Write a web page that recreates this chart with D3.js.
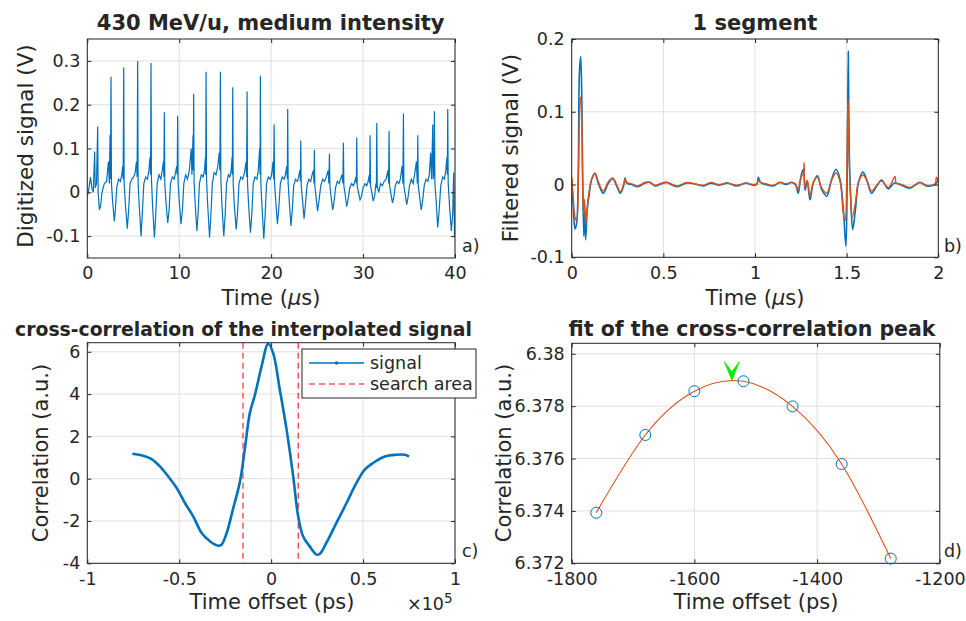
<!DOCTYPE html>
<html><head><meta charset="utf-8">
<script src="https://cdn.jsdelivr.net/npm/d3@7"></script>
<style>
body{margin:0;background:#fff;}
svg text{font-family:"DejaVu Sans",sans-serif;fill:#262626;}
</style></head><body>
<svg id="c" width="966" height="621"></svg>
<script>
// ---------- Panel a: digitized signal (t in µs, V) ----------
const sigA = [
[0,-0.01],[0.15,0.005],[0.35,0.035],[0.5,0.01],[0.65,0.0],[0.8,0.093],[0.86,0.01],[1.0,0.02],[1.13,0.15],[1.18,0.0],[1.31,-0.04],[1.45,-0.03],[1.6,0.0],[1.85,0.02],[2.1,0.025],[2.3,0.07],[2.4,0.02],[2.47,0.13],[2.52,0.03],
[2.58,0.264],[2.63,0.02],[2.75,-0.02],[2.94,-0.066],[3.05,-0.04],[3.2,0.01],[3.4,0.03],[3.6,0.025],[3.75,0.04],[3.85,0.06],[3.9,0.03],
[3.96,0.285],[4.01,0.02],[4.15,-0.03],[4.35,-0.083],[4.5,-0.04],[4.65,0.02],[4.85,0.03],[5.05,0.035],[5.2,0.045],[5.35,0.07],[5.42,0.035],
[5.48,0.30],[5.53,0.02],[5.65,-0.03],[5.85,-0.10],[5.98,-0.05],[6.15,0.02],[6.35,0.035],[6.55,0.03],[6.7,0.05],[6.82,0.08],[6.88,0.04],
[6.93,0.295],[6.98,0.03],[7.1,-0.03],[7.3,-0.103],[7.45,-0.05],[7.6,0.02],[7.8,0.04],[8.0,0.03],[8.15,0.05],[8.28,0.07],[8.33,0.035],
[8.38,0.183],[8.43,0.02],[8.55,-0.02],[8.75,-0.07],[8.9,-0.04],[9.05,0.02],[9.25,0.035],[9.45,0.03],[9.6,0.045],[9.72,0.06],[9.78,0.04],
[9.83,0.175],[9.88,0.02],[10.0,-0.02],[10.2,-0.073],[10.35,-0.04],[10.5,0.02],[10.7,0.04],[10.9,0.03],[11.1,0.05],[11.3,0.1],[11.38,0.04],[11.5,0.13],[11.53,0.05],
[11.57,0.225],[11.62,0.02],[11.75,-0.03],[11.92,-0.088],[12.05,-0.05],[12.2,0.02],[12.4,0.04],[12.6,0.035],[12.75,0.05],[12.85,0.08],[12.88,0.04],
[12.92,0.275],[12.97,0.03],[13.1,-0.03],[13.3,-0.103],[13.45,-0.05],[13.6,0.02],[13.8,0.045],[14.0,0.04],[14.2,0.06],[14.35,0.09],[14.42,0.05],
[14.48,0.275],[14.53,0.03],[14.65,-0.03],[14.85,-0.10],[15.0,-0.05],[15.15,0.02],[15.35,0.04],[15.5,0.035],[15.65,0.05],[15.75,0.08],[15.78,0.04],
[15.82,0.24],[15.87,0.02],[16.0,-0.03],[16.2,-0.085],[16.35,-0.045],[16.5,0.02],[16.7,0.035],[16.9,0.03],[17.1,0.045],[17.28,0.07],[17.33,0.035],
[17.38,0.23],[17.43,0.02],[17.55,-0.03],[17.75,-0.092],[17.9,-0.05],[18.05,0.02],[18.25,0.035],[18.45,0.03],[18.6,0.05],[18.75,0.1],[18.79,0.04],
[18.83,0.266],[18.88,0.02],[19.0,-0.03],[19.2,-0.106],[19.35,-0.05],[19.5,0.02],[19.7,0.035],[19.9,0.03],[20.05,0.04],[20.2,0.07],[20.27,0.03],
[20.32,0.155],[20.37,0.02],[20.5,-0.02],[20.68,-0.073],[20.82,-0.04],[21.0,0.02],[21.2,0.035],[21.4,0.03],[21.55,0.04],[21.7,0.06],[21.76,0.03],
[21.80,0.19],[21.85,0.02],[21.97,-0.02],[22.15,-0.077],[22.3,-0.04],[22.45,0.015],[22.65,0.03],[22.85,0.025],[23.0,0.035],[23.12,0.05],[23.18,0.025],
[23.22,0.118],[23.27,0.015],[23.4,-0.015],[23.58,-0.06],[23.72,-0.03],[23.9,0.015],[24.1,0.03],[24.3,0.025],[24.45,0.04],[24.6,0.05],[24.66,0.02],
[24.70,0.097],[24.75,0.015],[24.88,-0.01],[25.05,-0.043],[25.2,-0.02],[25.4,0.015],[25.6,0.03],[25.8,0.025],[26.0,0.035],[26.2,0.05],[26.28,0.02],
[26.34,0.088],[26.39,0.015],[26.52,-0.01],[26.7,-0.04],[26.85,-0.02],[27.0,0.01],[27.2,0.025],[27.4,0.02],[27.55,0.03],[27.7,0.04],[27.8,0.02],
[27.86,0.113],[27.91,0.015],[28.05,-0.005],[28.22,-0.033],[28.38,-0.015],[28.55,0.01],[28.75,0.02],[28.95,0.015],[29.1,0.025],[29.22,0.035],[29.27,0.02],
[29.31,0.125],[29.36,0.015],[29.5,0.0],[29.67,-0.017],[29.82,-0.01],[30.0,0.01],[30.2,0.02],[30.4,0.015],[30.55,0.025],[30.68,0.04],[30.72,0.02],
[30.76,0.13],[30.81,0.015],[30.95,0.0],[31.1,-0.02],[31.25,-0.01],[31.4,0.02],[31.45,0.01],[31.49,0.158],[31.54,0.015],[31.7,0.0],[31.9,0.02],[32.1,0.015],[32.3,0.025],[32.5,0.03],[32.7,0.05],[32.78,0.02],
[32.83,0.14],[32.88,0.015],[33.0,0.0],[33.2,-0.024],[33.35,-0.01],[33.5,0.015],[33.7,0.025],[33.9,0.02],[34.05,0.03],[34.25,0.06],[34.33,0.02],
[34.39,0.18],[34.44,0.015],[34.58,-0.005],[34.75,-0.028],[34.9,-0.01],[35.05,0.015],[35.25,0.03],[35.45,0.02],[35.6,0.04],[35.8,0.07],[35.9,0.02],
[35.95,0.13],[36.0,0.015],[36.15,-0.01],[36.32,-0.04],[36.48,-0.02],[36.65,0.015],[36.85,0.03],[37.05,0.025],[37.2,0.04],[37.35,0.09],[37.45,0.03],[37.58,0.155],[37.63,0.03],[37.72,0.05],
[37.76,0.185],[37.81,0.02],[37.95,-0.02],[38.12,-0.08],[38.28,-0.04],[38.45,0.015],[38.65,0.035],[38.85,0.03],[39.0,0.05],[39.12,0.08],[39.17,0.04],
[39.21,0.19],[39.26,0.02],[39.4,-0.03],[39.6,-0.088],[39.75,-0.05],[39.85,0.045],[39.95,-0.1],[40,-0.06]
];
const aXTicks = [0,10,20,30,40];
const aYTicks = [-0.1,0,0.1,0.2,0.3];

// ---------- Panel b: filtered signal, 1 segment ----------
const filtBlue = [
[0,0.008],[0.009,-0.034],[0.018,-0.061],[0.027,-0.053],[0.036,0.021],[0.042,0.153],[0.049,0.176],[0.055,0.121],[0.06,0.011],[0.066,-0.071],[0.071,-0.034],[0.076,-0.076],[0.085,-0.034],[0.096,-0.012],[0.109,0.007],[0.127,0.015],[0.145,0.002],[0.172,-0.012],[0.2,0.002],[0.224,0.008],[0.245,-0.002],[0.265,-0.012],[0.285,0.0],[0.291,0.009],[0.3,0.002],[0.327,0.0],[0.36,-0.003],[0.4,0.002],[0.427,0.003],[0.455,-0.002],[0.49,0.001],[0.518,0.003],[0.55,-0.001],[0.576,-0.003],[0.63,0.002],[0.685,0.0],[0.72,-0.002],[0.76,0.002],[0.8,-0.001],[0.85,0.002],[0.9,-0.002],[0.95,0.002],[0.99,-0.001],[1.01,0.0],[1.018,0.01],[1.03,0.003],[1.06,0.0],[1.1,-0.002],[1.136,0.003],[1.17,0.0],[1.2,0.003],[1.22,0.0],[1.236,-0.012],[1.245,0.002],[1.255,0.016],[1.264,0.021],[1.273,-0.008],[1.285,0.005],[1.3,-0.021],[1.318,0.002],[1.34,0.012],[1.364,-0.007],[1.391,-0.016],[1.418,0.007],[1.442,0.021],[1.464,0.007],[1.482,-0.034],[1.496,-0.085],[1.504,0.043],[1.509,0.183],[1.514,0.048],[1.522,-0.016],[1.533,-0.062],[1.548,-0.034],[1.564,0.002],[1.588,0.017],[1.609,0.007],[1.636,-0.012],[1.664,-0.002],[1.691,0.006],[1.727,-0.006],[1.76,0.002],[1.79,0.0],[1.845,-0.005],[1.9,0.003],[1.936,-0.002],[1.982,0.0],[2.0,0.007]
];
const filtOrange = [
[0,0.01],[0.009,-0.02],[0.018,-0.045],[0.027,-0.05],[0.036,0.0],[0.042,0.09],[0.048,0.12],[0.053,0.11],[0.058,0.03],[0.064,-0.04],[0.07,-0.02],[0.076,-0.055],[0.085,-0.03],[0.096,-0.008],[0.109,0.008],[0.127,0.016],[0.145,0.004],[0.172,-0.009],[0.2,0.004],[0.224,0.009],[0.245,0.0],[0.265,-0.01],[0.285,0.002],[0.291,0.008],[0.3,0.003],[0.327,0.001],[0.36,-0.002],[0.4,0.003],[0.427,0.003],[0.455,-0.001],[0.49,0.002],[0.518,0.003],[0.55,0.0],[0.576,-0.002],[0.63,0.003],[0.685,0.0],[0.72,-0.001],[0.76,0.003],[0.8,0.0],[0.85,0.002],[0.9,-0.001],[0.95,0.002],[0.99,0.0],[1.01,0.001],[1.018,0.006],[1.03,0.003],[1.06,0.001],[1.1,-0.001],[1.136,0.003],[1.17,0.001],[1.2,0.003],[1.22,0.001],[1.236,-0.008],[1.245,0.004],[1.255,0.012],[1.264,0.015],[1.268,0.03],[1.273,-0.004],[1.285,0.006],[1.3,-0.016],[1.318,0.003],[1.34,0.01],[1.364,-0.005],[1.391,-0.012],[1.418,0.006],[1.442,0.016],[1.464,0.004],[1.482,-0.04],[1.492,-0.05],[1.5,0.0],[1.507,0.118],[1.512,0.05],[1.52,-0.01],[1.53,-0.045],[1.548,-0.025],[1.564,0.003],[1.588,0.013],[1.609,0.006],[1.636,-0.009],[1.664,-0.001],[1.691,0.005],[1.727,-0.004],[1.764,0.011],[1.77,0.002],[1.79,0.001],[1.845,-0.004],[1.9,0.003],[1.936,-0.001],[1.982,0.001],[1.99,0.01],[2.0,0.005]
];
const bXTicks = [0,0.5,1,1.5,2];
const bYTicks = [-0.1,0,0.1,0.2];

// ---------- Panel c: cross-correlation (offset in 1e5 ps) ----------
const corrX = [-0.755,-0.696,-0.65,-0.605,-0.56,-0.514,-0.469,-0.424,-0.378,-0.333,-0.288,-0.27,-0.242,-0.207,-0.17,-0.143,-0.116,-0.088,-0.052,-0.016,0.011,0.047,0.084,0.12,0.147,0.174,0.21,0.247,0.265,0.3,0.355,0.41,0.464,0.509,0.554,0.618,0.68,0.727,0.75];
const corrY = [1.18,1.09,0.93,0.58,0.11,-0.44,-1.15,-1.78,-2.57,-2.96,-3.17,-3.12,-2.57,-1.42,-0.16,1.42,3.1,3.97,5.31,6.38,5.94,4.21,2.32,0.11,-1.78,-2.73,-3.2,-3.59,-3.55,-3.04,-2.09,-1.15,-0.2,0.43,0.74,1.05,1.13,1.13,1.05];
const searchArea = [-0.153,0.147];
const cXTicks = [-1,-0.5,0,0.5,1];
const cYTicks = [-4,-2,0,2,4,6];
const legendLabels = ["signal","search area"];

// ---------- Panel d: fit of the peak ----------
const peakX = [-1760,-1680,-1600,-1520,-1440,-1360,-1280];
const peakY = [6.37393,6.37690,6.37857,6.37895,6.37799,6.37579,6.37218];
const peakMax = [-1539,6.37899];
const dXTicks = [-1800,-1600,-1400,-1200];
const dYTicks = [6.372,6.374,6.376,6.378,6.38];

const BLUE = "#0072BD", ORANGE = "#D95319";
const svg = d3.select("#c");
const TICKFS = 17.5;

function panel(cfg){
  const x = d3.scaleLinear().domain(cfg.xd).range([cfg.x0,cfg.x1]);
  const y = d3.scaleLinear().domain(cfg.yd).range([cfg.y1,cfg.y0]);
  const g = svg.append("g");
  g.append("rect").attr("x",cfg.x0).attr("y",cfg.y0).attr("width",cfg.x1-cfg.x0).attr("height",cfg.y1-cfg.y0).attr("fill","#fff");
  g.selectAll(null).data(cfg.xt).join("line")
    .attr("x1",d=>x(d)).attr("x2",d=>x(d)).attr("y1",cfg.y0).attr("y2",cfg.y1)
    .attr("stroke","#dfdfdf").attr("stroke-width",1);
  g.selectAll(null).data(cfg.yt).join("line")
    .attr("y1",d=>y(d)).attr("y2",d=>y(d)).attr("x1",cfg.x0).attr("x2",cfg.x1)
    .attr("stroke","#dfdfdf").attr("stroke-width",1);
  const id = "clip"+cfg.id;
  svg.append("clipPath").attr("id",id).append("rect")
    .attr("x",cfg.x0).attr("y",cfg.y0-1).attr("width",cfg.x1-cfg.x0).attr("height",cfg.y1-cfg.y0+2);
  const data = g.append("g").attr("clip-path",`url(#${id})`);
  const fmt = d=>String(d);
  const ax = (axis,tx,ty,labels)=>{
    const a = g.append("g").attr("transform",`translate(${tx},${ty})`).call(axis);
    a.select(".domain").remove();
    a.selectAll(".tick line").attr("stroke","#262626");
    a.selectAll("text").attr("font-size",TICKFS).attr("fill","#262626").attr("font-family","DejaVu Sans");
    if(!labels) a.selectAll("text").remove();
    return a;
  };
  ax(d3.axisBottom(x).tickValues(cfg.xt).tickFormat(fmt).tickSize(-4).tickPadding(9),0,cfg.y1,true);
  ax(d3.axisTop(x).tickValues(cfg.xt).tickSize(-4),0,cfg.y0,false);
  ax(d3.axisLeft(y).tickValues(cfg.yt).tickFormat(fmt).tickSize(-4).tickPadding(7),cfg.x0,0,true);
  ax(d3.axisRight(y).tickValues(cfg.yt).tickSize(-4),cfg.x1,0,false);
  const over = svg.append("g");
  over.append("rect").attr("x",cfg.x0).attr("y",cfg.y0).attr("width",cfg.x1-cfg.x0).attr("height",cfg.y1-cfg.y0)
    .attr("fill","none").attr("stroke","#262626").attr("stroke-width",1);
  return {x,y,g,data,over};
}

function txt(s,x,y,o={}){
  const t = svg.append("text").attr("x",x).attr("y",y).attr("font-size",o.fs||20)
    .attr("text-anchor",o.anchor||"middle").attr("fill",o.fill||"#262626");
  if(o.bold) t.attr("font-weight","bold");
  if(o.rot) t.attr("transform",`rotate(-90,${x},${y})`);
  return t.text(s);
}

// ---- Panel a ----
const A = panel({id:"a",x0:87.3,x1:455,y0:39,y1:258,xd:[0,40],yd:[-0.15,0.35],xt:aXTicks,yt:aYTicks});
A.data.append("path").datum(sigA)
  .attr("d",d3.line().x(d=>A.x(d[0])).y(d=>A.y(d[1])))
  .attr("fill","none").attr("stroke",BLUE).attr("stroke-width",1.2);

// ---- Panel b ----
const B = panel({id:"b",x0:571.7,x1:938.3,y0:39,y1:257.3,xd:[0,2],yd:[-0.1,0.2],xt:bXTicks,yt:bYTicks});
B.data.append("path").datum(filtBlue)
  .attr("d",d3.line().x(d=>B.x(d[0])).y(d=>B.y(d[1])).curve(d3.curveCatmullRom))
  .attr("fill","none").attr("stroke",BLUE).attr("stroke-width",1.6);
B.data.append("path").datum(filtOrange)
  .attr("d",d3.line().x(d=>B.x(d[0])).y(d=>B.y(d[1])).curve(d3.curveCatmullRom))
  .attr("fill","none").attr("stroke",ORANGE).attr("stroke-width",1.4);

// ---- Panel c ----
const C = panel({id:"c",x0:87.3,x1:455,y0:342.7,y1:563.3,xd:[-1,1],yd:[-4,6.43],xt:cXTicks,yt:cYTicks});
C.data.selectAll(null).data(searchArea).join("line")
  .attr("x1",d=>C.x(d)).attr("x2",d=>C.x(d)).attr("y1",342.7).attr("y2",563.3)
  .attr("stroke","#FF0000").attr("stroke-width",1).attr("stroke-dasharray","6,4");
C.data.append("path").datum(corrX.map((v,i)=>[v,corrY[i]]))
  .attr("d",d3.line().x(d=>C.x(d[0])).y(d=>C.y(d[1])).curve(d3.curveCatmullRom))
  .attr("fill","none").attr("stroke",BLUE).attr("stroke-width",2.6).attr("stroke-linejoin","round");
// legend
const lg = svg.append("g");
lg.append("rect").attr("x",302).attr("y",349).attr("width",174).attr("height",49).attr("fill","#fff").attr("stroke","#262626").attr("stroke-width",1);
lg.append("line").attr("x1",309).attr("x2",364).attr("y1",363).attr("y2",363).attr("stroke",BLUE).attr("stroke-width",1.5);
lg.append("circle").attr("cx",336.5).attr("cy",363).attr("r",1.8).attr("fill",BLUE);
lg.append("line").attr("x1",309).attr("x2",364).attr("y1",384).attr("y2",384).attr("stroke","#FF0000").attr("stroke-width",1.2).attr("stroke-dasharray","6,4");
lg.selectAll(null).data(legendLabels).join("text")
  .attr("x",370).attr("y",(d,i)=>369+i*21).attr("font-size",17.5).attr("fill","#262626").text(d=>d);

// ---- Panel d ----
const D = panel({id:"d",x0:571.7,x1:939.8,y0:343.3,y1:563.3,xd:[-1800,-1200],yd:[6.372,6.3804],xt:dXTicks,yt:dYTicks});
const pts = peakX.map((v,i)=>[v,peakY[i]]);
D.data.append("path").datum(pts)
  .attr("d",d3.line().x(d=>D.x(d[0])).y(d=>D.y(d[1])).curve(d3.curveNatural))
  .attr("fill","none").attr("stroke",ORANGE).attr("stroke-width",1.1);
D.over.selectAll(null).data(pts).join("circle")
  .attr("cx",d=>D.x(d[0])).attr("cy",d=>D.y(d[1])).attr("r",5.5)
  .attr("fill","none").attr("stroke",BLUE).attr("stroke-width",1);
{
  const px = D.x(peakMax[0]), py = D.y(peakMax[1]);
  D.over.append("path").attr("d",`M${px-7.5},${py-18.5}L${px},${py-8.5}L${px+7.5},${py-18.5}L${px},${py}Z`)
    .attr("fill","#00EE00").attr("stroke","#00EE00").attr("stroke-width",0.8);
}

// ---- Titles and labels ----
txt("430 MeV/u, medium intensity",270.7,30,{bold:true,fs:21,fill:"#000"});
txt("1 segment",755,30,{bold:true,fs:21,fill:"#000"});
txt("cross-correlation of the interpolated signal",243.5,336,{bold:true,fs:18.8,fill:"#000"});
txt("fit of the cross-correlation peak",752,336,{bold:true,fs:20.5,fill:"#000"});

function timeLabel(x,y){
  const t = svg.append("text").attr("x",x).attr("y",y).attr("font-size",21).attr("text-anchor","middle").attr("fill","#262626");
  t.append("tspan").text("Time (");
  t.append("tspan").attr("font-style","italic").text("\u03bc");
  t.append("tspan").text("s)");
}
timeLabel(271,305);
timeLabel(755,305);
txt("Time offset (ps)",272,609,{fs:21});
txt("Time offset (ps)",756,609,{fs:21});
txt("Digitized signal (V)",33,146,{fs:21.5,rot:true});
txt("Filtered signal (V)",518,148,{fs:21.5,rot:true});
txt("Correlation (a.u.)",48,453,{fs:21,rot:true});
txt("Correlation (a.u.)",511,453,{fs:21,rot:true});

{
  const t = svg.append("text").attr("x",407).attr("y",610).attr("font-size",17.5).attr("fill","#262626");
  t.append("tspan").text("\u00d710");
  t.append("tspan").attr("dy",-7).attr("font-size",13.5).text("5");
}
txt("a)",462,252,{fs:17.5,anchor:"start"});
txt("b)",944,252,{fs:17.5,anchor:"start"});
txt("c)",462,557,{fs:17.5,anchor:"start"});
txt("d)",944,557,{fs:17.5,anchor:"start"});
</script>
</body></html>
